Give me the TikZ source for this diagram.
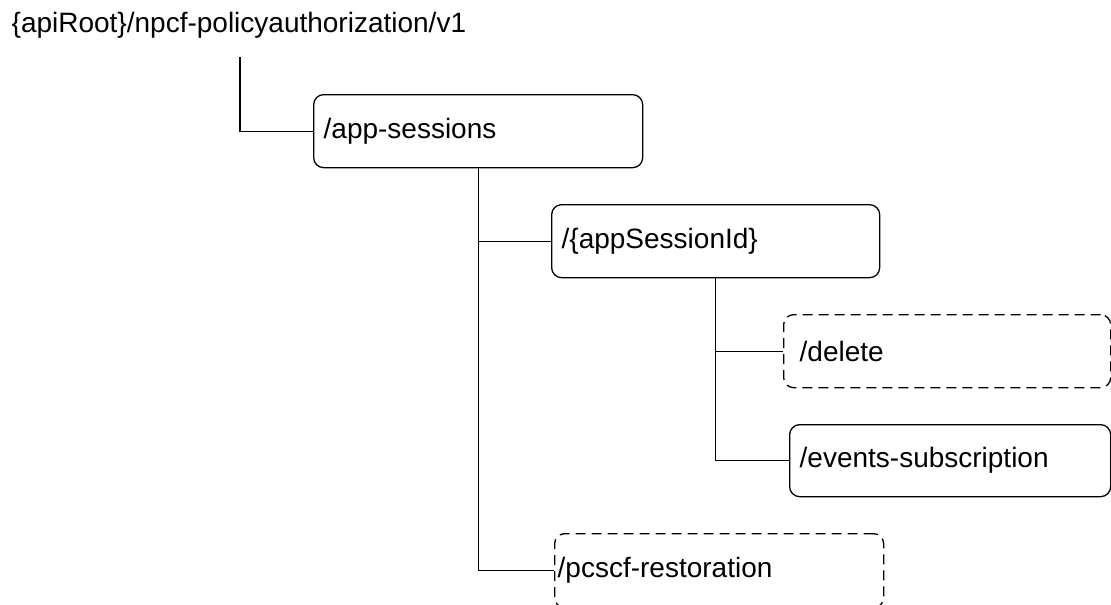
\documentclass[tikz,border=0pt]{standalone}
\usepackage{fontspec}
\setmainfont{Liberation Sans}
\usepackage{tikz}
\usetikzlibrary{calc}

\begin{document}
\begin{tikzpicture}[
        x=1pt, y=-1pt, line width=1.3pt,
        font=\fontsize{28}{34}\selectfont,
        box/.style={draw, rounded corners=10pt, anchor=north west, align=left,
                    minimum height=73pt, inner xsep=10pt, inner ysep=0pt},
        optbox/.style={box, dash pattern=on 10pt off 6pt},
    ]

    \useasboundingbox (0, 0) rectangle (1111, 605);

    \node[anchor=base west, inner sep=0pt] (root) at (11, 32)
        {\{apiRoot\}/npcf-policyauthorization/v1};
    \coordinate (rootstub) at (240, 57);

    \node[box, text width=309pt] (appsessions) at (313, 94) {/app-sessions};
    \node[box, text width=308pt] (sessionid) at (551, 204) {/\{appSessionId\}};
    \node[optbox, inner xsep=16pt, text width=295pt] (delete) at (783, 314) {/delete};
    \node[box, minimum height=72pt, text width=301pt] (events) at (789, 424) {/events-subscription};
    \node[optbox, inner xsep=3pt, minimum height=74pt, text width=323pt] (pcscf) at (554, 533)
        {/pcscf-restoration};

    \draw (rootstub) |- (appsessions.west);

    \draw (appsessions.south) |- (pcscf.west);
    \draw (appsessions.south |- sessionid.west) -- (sessionid.west);

    \draw (sessionid.south) |- (events.west);
    \draw (sessionid.south |- delete.west) -- (delete.west);

\end{tikzpicture}
\end{document}
